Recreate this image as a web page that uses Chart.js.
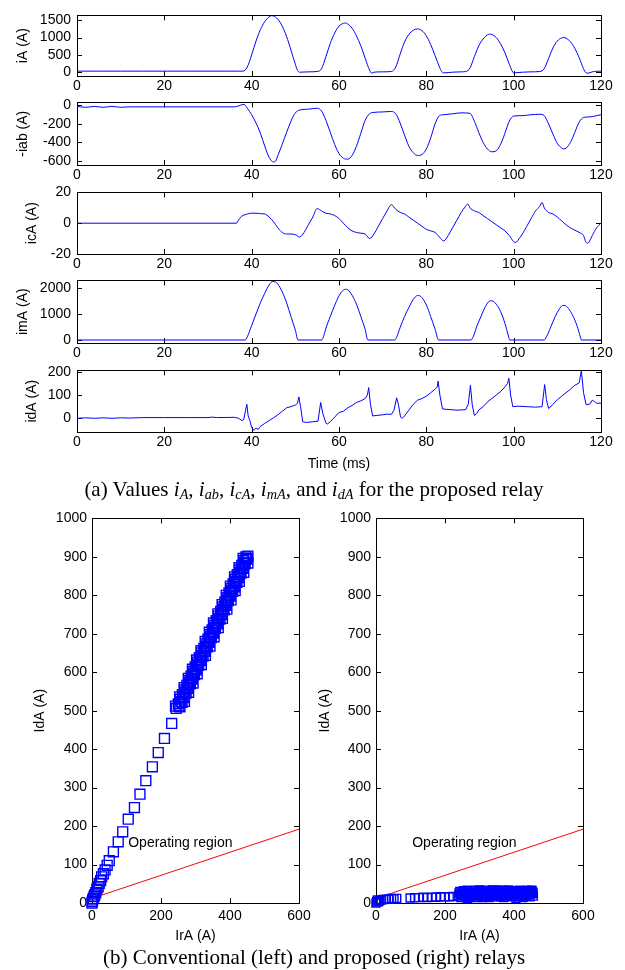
<!DOCTYPE html>
<html>
<head>
<meta charset="utf-8">
<script src="https://cdn.jsdelivr.net/npm/chart.js@4.4.1/dist/chart.umd.min.js"></script>
<style>
  body { margin: 0; background: #fff; }
  #fig { position: relative; width: 625px; height: 970px; overflow: hidden; background: #fff; }
  #fig canvas { position: absolute; }
  .cap {
    position: absolute; left: 0; width: 628px; text-align: center;
    font-family: "Liberation Serif", "Times New Roman", serif; font-size: 21px;
    line-height: 22px; color: #000; white-space: nowrap;
  }
  .cap sub { font-size: 0.68em; line-height: 0; vertical-align: -0.22em; }
</style>
</head>
<body>
<div id="fig">
  <canvas id="pA"></canvas>
  <canvas id="pAB"></canvas>
  <canvas id="pCA"></canvas>
  <canvas id="pMA"></canvas>
  <canvas id="pDA"></canvas>
  <div class="cap" style="top:478px">(a) Values <i>i<sub>A</sub></i>, <i>i<sub>ab</sub></i>, <i>i<sub>cA</sub></i>, <i>i<sub>mA</sub></i>, and <i>i<sub>dA</sub></i> for the proposed relay</div>
  <canvas id="relayLeft"></canvas>
  <canvas id="relayRight"></canvas>
  <div class="cap" style="top:946px">(b) Conventional (left) and proposed (right) relays</div>
</div>
<script>
// --- Data: [time ms, value A] ---

const timeTicks = [0, 20, 40, 60, 80, 100, 120];

const iA = [[0,30],[5,30],[10,30],[15,30],[20,30],[25,30],[30,30],[35,30],[37,30],[38,30],
  [39,150],[40,500],[41,900],[42,1230],[43,1460],[44,1600],[44.5,1630],[45,1620],[46,1530],[47,1330],
  [48,1030],[49,640],[50,230],[50.5,50],[51,0],[53,10],[55,20],[56,100],[57,450],[58,830],
  [59,1130],[60,1330],[61,1410],[61.5,1420],[62,1390],[63,1270],[64,1050],[65,760],[66,400],[67,60],
  [67.5,-30],[68,0],[70,10],[72,20],[73,150],[74,520],[75,870],[76,1090],[77,1210],[78,1250],
  [79,1200],[80,1050],[81,800],[82,480],[83,150],[83.5,20],[84,-20],[86,0],[88,10],[89,20],
  [90,120],[91,450],[92,760],[93,960],[94,1080],[94.5,1100],[95,1090],[96,1000],[97,820],[98,560],
  [99,230],[99.8,0],[100,-20],[102,0],[104,10],[106,20],[107,100],[108,400],[109,700],[110,900],
  [111,990],[111.5,1000],[112,980],[113,880],[114,690],[115,420],[116,100],[116.5,-10],[117,-30],[118,10],
  [119,25],[120,30]];
const iATicks = [0, 500, 1000, 1500];

const iab = [[0,-10],[2,-20],[4,-10],[6,-20],[8,-10],[10,-20],[12,-15],[20,-15],[30,-15],[36,-15],
  [37,-5],[38,10],[38.5,5],[39,-30],[40,-100],[41,-190],[42,-300],[43,-440],[44,-560],[45,-610],
  [45.5,-600],[46,-540],[47,-420],[48,-290],[49,-170],[50,-80],[51,-50],[53,-40],[55,-30],[56,-60],
  [57,-160],[58,-290],[59,-420],[60,-520],[61,-570],[62,-580],[63,-540],[64,-440],[65,-300],[66,-160],
  [67,-90],[68,-75],[70,-70],[72,-65],[73,-90],[74,-190],[75,-320],[76,-440],[77,-510],[78,-540],
  [79,-530],[80,-470],[81,-350],[82,-200],[83,-110],[84,-100],[86,-90],[88,-80],[90,-85],[91,-170],
  [92,-290],[93,-400],[94,-470],[95,-500],[96,-490],[97,-420],[98,-300],[99,-170],[100,-115],[102,-110],
  [104,-100],[106,-95],[107,-110],[108,-200],[109,-310],[110,-410],[111,-460],[111.5,-470],[112,-460],[113,-400],
  [114,-290],[115,-180],[116,-130],[117,-125],[118,-120],[119,-110],[120,-100]];
const iabTicks = [-600, -400, -200, 0];

const icA = [[0,0],[36.5,0],[37,2],[37.5,4],[38,5],[39,6],[40,6.5],[41,6.5],[42,6.2],[43,6],
  [44,4],[45,1],[46,-3],[47,-6],[48,-7],[49,-7],[50,-7.5],[51,-9],[52,-6],[53,-1],
  [54,4],[55,9.5],[56,8],[57,6.5],[58,6],[59,5],[60,3],[61,0],[62,-3],[63,-5],
  [64,-6],[65,-6.5],[66,-7],[67,-10],[68,-7],[69,-2],[70,3],[71,8],[72,12],[73,9],
  [74,7],[75,6],[76,4],[77,2],[78,0],[79,-2],[80,-4],[81,-5],[82,-6],[83,-9],
  [84,-11.5],[85,-8],[86,-3],[87,2],[88,7],[89,11],[89.5,12.5],[90,10],[91,8],[92,7],
  [93,5],[94,3],[95,1],[96,-1],[97,-3],[98,-5],[99,-8],[100,-12],[100.5,-12.5],[101,-11],
  [102,-7],[103,-2],[104,3],[105,8],[106,11],[106.5,13.5],[107,10],[108,7],[109,6],[110,4],
  [111,1.5],[112,-1],[113,-3],[114,-4.5],[115,-6],[116,-8],[116.5,-12],[117,-13],[117.5,-11],[118,-8],
  [119,-3],[120,0]];
const icATicks = [-20, 0, 20];

const imA = [[0,0],[38.5,0],[39,120],[40,560],[41,1000],[42,1430],[43,1800],[44,2120],[44.8,2250],[45.5,2230],
  [46,2150],[47,1850],[48,1430],[49,900],[50,380],[50.6,0],[56,0],[56.5,150],[57,450],[58,900],
  [59,1330],[60,1700],[61,1920],[61.5,1950],[62,1930],[63,1720],[64,1380],[65,900],[66,400],[66.6,0],
  [72.8,0],[73.3,150],[74,480],[75,900],[76,1250],[77,1560],[78,1710],[78.5,1700],[79,1630],[80,1350],
  [81,900],[82,420],[82.8,0],[90.2,0],[90.8,150],[91.5,500],[92.5,900],[93.5,1280],[94.5,1500],[95,1510],
  [96,1380],[97,1100],[98,640],[98.8,150],[99.1,0],[107,0],[107.5,120],[108.5,500],[109.5,900],[110.5,1200],
  [111.2,1330],[111.8,1320],[112.5,1220],[113.5,950],[114.5,550],[115.3,100],[115.5,0],[120,0]];
const imATicks = [0, 1000, 2000];

const idA = [[0,0],[2,2],[4,0],[6,2],[8,0],[10,2],[12,1],[15,3],[20,3],[25,3],
  [30,3],[31,5],[32,3],[36,4],[37,0],[37.8,-10],[38.2,-5],[38.6,35],[38.9,60],[39.2,10],
  [39.6,-10],[40,-40],[40.5,-52],[41,-42],[41.5,-48],[42,-35],[43,-22],[44,-10],[45,2],[46,15],
  [47,30],[48,45],[49,50],[50,57],[50.5,65],[50.8,92],[51.2,50],[51.7,-15],[52.5,-18],[54,-15],
  [55.2,-12],[55.8,68],[56.3,20],[57,-20],[57.3,-25],[58,-15],[59,5],[60,25],[61,30],[62,45],
  [63,55],[64,68],[65,75],[66,85],[66.5,100],[66.8,132],[67.2,60],[67.7,10],[68.5,12],[70,15],
  [71,18],[72,17],[72.6,35],[73.2,88],[73.6,60],[74.1,5],[74.5,0],[75,10],[76,35],[77,60],
  [78,78],[79,85],[80,95],[81,110],[82,125],[82.5,135],[82.7,160],[83.1,100],[83.7,40],[85,38],
  [87,35],[89,37],[89.6,60],[90.1,142],[90.5,60],[91,12],[91.5,20],[92,35],[93,50],[94,70],
  [95,85],[96,100],[97,115],[98,135],[98.6,150],[98.9,172],[99.3,100],[99.8,50],[101,52],[103,50],
  [105,48],[106.5,50],[107.1,145],[107.5,80],[108,42],[109,60],[110,80],[111,95],[112,110],[113,125],
  [114,142],[115,152],[115.5,205],[116,110],[116.6,58],[117.5,62],[118,78],[118.5,72],[119,65],[120,65]];
const idATicks = [0, 100, 200];

// --- Relay characteristic: [IrA, IdA] ---

const irTicks = [0, 200, 400, 600];
const idTicks = [0, 100, 200, 300, 400, 500, 600, 700, 800, 900, 1000];

const conventional = [[0,0],[1,4],[2,8],[4,12],[6,17],[8,21],[11,27],[14,36],[18,42],[21,51],
  [25,58],[28,68],[33,76],[38,86],[44,98],[50,110],[62,133],[76,159],[89,185],[105,218],
  [123,248],[139,283],[156,318],[175,354],[192,391],[210,428],[231,467],
  // dense band of the fault samples
  [244,506],[255,510],[250,518],[261,522],[256,530],[267,534],[262,542],[273,546],[268,554],[279,558],
  [275,566],[285,570],[281,578],[291,582],[287,590],[297,594],[293,602],[303,606],[299,614],[309,618],
  [305,626],[315,630],[311,638],[322,642],[317,650],[328,654],[324,662],[334,666],[330,674],[340,678],
  [336,686],[346,690],[342,698],[352,702],[348,710],[358,714],[354,722],[364,726],[360,734],[371,738],
  [366,746],[377,750],[373,758],[383,762],[379,770],[389,774],[385,782],[395,786],[391,794],[401,798],
  [397,806],[408,810],[403,818],[414,822],[409,830],[420,834],[415,842],[426,846],[421,854],[432,858],
  [428,866],[438,870],[434,878],[444,882],[440,890],[450,894],[446,900],[452,902],
  [252,512],[258,524],[264,536],[270,548],[277,560],[283,572],[289,584],[295,596],[301,608],[307,620],
  [313,632],[319,644],[326,656],[332,668],[338,680],[344,692],[350,704],[356,716],[362,728],[368,740],
  [375,752],[381,764],[387,776],[393,788],[399,800],[405,812],[411,824],[417,836],[423,848],[430,860],
  [436,872],[442,884],[448,896],
  [242,512],[254,536],[267,560],[279,584],[291,608],[303,632],[316,656],[328,680],[340,704],[352,728],
  [365,752],[377,776],[389,800],[401,824],[413,848],[426,872],[438,896],
  [268,524],[280,548],[293,572],[305,596],[317,620],[329,644],[342,668],[354,692],[366,716],[378,740],
  [391,764],[403,788],[415,812],[427,836],[440,860],[452,884]];

const proposed = [[0,0],[2,4],[4,8],[7,3],[10,6],[15,8],[22,9],[30,10],[38,10],[45,12],
  [52,11],[60,12],[99,13],[112,14],[124,14],[137,15],[149,14],[162,15],[174,15],[187,16],
  [199,16],[212,16],[224,17],
  [240,20],[243,30],[246,14],[250,25],[254,32],[258,18],[262,28],[266,12],[270,24],[274,31],
  [278,16],[282,27],[286,20],[290,33],[294,14],[298,25],[302,30],[306,18],[310,28],[314,22],
  [318,33],[322,15],[326,27],[330,31],[334,20],[338,34],[342,16],[346,26],[350,30],[354,18],
  [358,28],[362,23],[366,33],[370,14],[374,25],[378,30],[382,19],[386,28],[390,32],[394,16],
  [398,24],[402,29],[406,12],[410,22],[414,27],[418,18],[422,30],[426,14],[430,25],[434,32],
  [438,20],[442,28],[446,16],[450,30],[454,24],[456,18],
  [241,26],[245,22],[249,16],[252,30],[256,24],[260,14],[264,33],[268,20],[272,16],[276,26],
  [280,22],[284,32],[288,15],[292,24],[296,20],[300,34],[304,24],[308,14],[312,32],[316,17],
  [320,26],[324,22],[328,14],[332,26],[336,28],[340,22],[344,33],[348,20],[352,24],[356,33],
  [360,16],[364,28],[368,20],[372,31],[376,18],[380,24],[384,34],[388,21],[392,26],[396,30],
  [400,18],[404,24],[408,31],[412,16],[416,33],[420,24],[424,20],[428,31],[432,18],[436,26],
  [440,33],[444,22],[448,26],[452,33],[455,28]];

const boundary = [[0,12],[600,192]];
const regionText = 'Operating region';
const regionAt = [105, 155];

// --- Shared look ---

const SANS = '"Liberation Sans", Arial, Helvetica, sans-serif';
Chart.defaults.font.family = SANS;
Chart.defaults.font.size = 14;
Chart.defaults.color = '#000';

// box round the plot with MATLAB style inward ticks
const boxTicks = {
  id: 'boxTicks',
  beforeDatasetsDraw(chart) {
    const { ctx, chartArea: a, scales } = chart;
    const len = 5;
    ctx.save();
    ctx.strokeStyle = '#000';
    ctx.lineWidth = 1;
    ctx.beginPath();
    scales.x.ticks.forEach(t => {
      const px = Math.round(scales.x.getPixelForValue(t.value)) + 0.5;
      ctx.moveTo(px, a.bottom); ctx.lineTo(px, a.bottom - len);
      ctx.moveTo(px, a.top); ctx.lineTo(px, a.top + len);
    });
    scales.y.ticks.forEach(t => {
      const py = Math.round(scales.y.getPixelForValue(t.value)) + 0.5;
      ctx.moveTo(a.left, py); ctx.lineTo(a.left + len, py);
      ctx.moveTo(a.right, py); ctx.lineTo(a.right - len, py);
    });
    ctx.stroke();
    ctx.strokeRect(Math.round(a.left) + 0.5, Math.round(a.top) + 0.5,
      Math.round(a.right - a.left), Math.round(a.bottom - a.top));
    ctx.restore();
  }
};

const regionLabel = {
  id: 'regionLabel',
  afterDatasetsDraw(chart, args, opts) {
    if (!opts || !opts.text) return;
    const { ctx, scales } = chart;
    ctx.save();
    ctx.font = '14px ' + SANS;
    ctx.fillStyle = '#000';
    ctx.textBaseline = 'middle';
    ctx.fillText(opts.text, scales.x.getPixelForValue(opts.at[0]), scales.y.getPixelForValue(opts.at[1]));
    ctx.restore();
  }
};

Chart.register(boxTicks, regionLabel);

function place(id, left, top, width, height) {
  const c = document.getElementById(id);
  c.width = width; c.height = height;
  c.style.left = left + 'px'; c.style.top = top + 'px';
  return c;
}

const fixedTicks = list => s => { s.ticks = list.map(v => ({ value: v })); };
const plain = v => String(v);

// --- Part (a): five time panels ---

const panels = [
  { id: 'pA',  data: iA,  ticks: iATicks,  min: -110, max: 1640, title: 'iA (A)',   tpad: 15, top: 10,  bottom: 76 },
  { id: 'pAB', data: iab, ticks: iabTicks, min: -643, max: 33,   title: '-iab (A)', tpad: 15, top: 97,  bottom: 165 },
  { id: 'pCA', data: icA, ticks: icATicks, min: -20,  max: 20,   title: 'icA (A)',  tpad: 24, top: 187, bottom: 254 },
  { id: 'pMA', data: imA, ticks: imATicks, min: -116, max: 2293, title: 'imA (A)',  tpad: 15, top: 275, bottom: 343 },
  { id: 'pDA', data: idA, ticks: idATicks, min: -59,  max: 206,  title: 'idA (A)',  tpad: 24, top: 365, bottom: 432, xTitle: 'Time (ms)', spiky: true },
];

panels.forEach(p => {
  const padTop = 9;
  const xH = p.xTitle ? 46 : 20;
  const canvas = place(p.id, 0, p.top - padTop, 625, padTop + (p.bottom - p.top) + xH);
  new Chart(canvas, {
    type: 'line',
    data: {
      datasets: [{
        data: p.data.map(d => ({ x: d[0], y: d[1] })),
        borderColor: '#0000ff',
        borderWidth: 1,
        pointRadius: 0,
        cubicInterpolationMode: p.spiky ? 'default' : 'monotone',
        tension: 0,
      }],
    },
    options: {
      responsive: false,
      animation: false,
      layout: { padding: { top: padTop, right: 24, left: 0, bottom: 0 } },
      plugins: { legend: { display: false }, tooltip: { enabled: false } },
      scales: {
        x: {
          type: 'linear', min: 0, max: 120,
          afterBuildTicks: fixedTicks(timeTicks),
          afterFit: s => { s.height = xH; },
          ticks: { padding: 2, maxRotation: 0, autoSkip: false, callback: plain },
          grid: { display: false, drawTicks: false },
          border: { display: false },
          title: { display: !!p.xTitle, text: p.xTitle || '', padding: { top: 0, bottom: 5 } },
        },
        y: {
          min: p.min, max: p.max,
          afterBuildTicks: fixedTicks(p.ticks),
          afterFit: s => { s.width = 77; },
          ticks: { padding: 6, autoSkip: false, callback: plain },
          grid: { display: false, drawTicks: false },
          border: { display: false },
          title: { display: true, text: p.title, padding: { top: p.tpad, bottom: 0 } },
        },
      },
    },
  });
});

// --- Part (b): relay characteristics ---

function relayChart(id, left, width, padRight, yW, titlePad, points, radius) {
  const padTop = 13, xH = 45;
  const canvas = place(id, left, 518 - padTop, width, padTop + 385 + xH);
  new Chart(canvas, {
    type: 'scatter',
    data: {
      datasets: [
        {
          data: points.map(d => ({ x: d[0], y: d[1] })),
          pointStyle: 'rect',
          pointRadius: radius,
          borderColor: '#0000ff',
          backgroundColor: 'rgba(0,0,0,0)',
          borderWidth: 1.4,
          clip: false,
        },
        {
          type: 'line',
          data: boundary.map(d => ({ x: d[0], y: d[1] })),
          borderColor: '#ff0000',
          borderWidth: 1,
          pointRadius: 0,
          showLine: true,
        },
      ],
    },
    options: {
      responsive: false,
      animation: false,
      layout: { padding: { top: padTop, right: padRight, left: 0, bottom: 0 } },
      plugins: {
        legend: { display: false },
        tooltip: { enabled: false },
        regionLabel: { text: regionText, at: regionAt },
      },
      scales: {
        x: {
          type: 'linear', min: 0, max: 600,
          afterBuildTicks: fixedTicks(irTicks),
          afterFit: s => { s.height = xH; },
          ticks: { padding: 5, maxRotation: 0, autoSkip: false, callback: plain },
          grid: { display: false, drawTicks: false },
          border: { display: false },
          title: { display: true, text: 'IrA (A)', padding: { top: 0, bottom: 3 } },
        },
        y: {
          type: 'linear', min: 0, max: 1000,
          afterBuildTicks: fixedTicks(idTicks),
          afterFit: s => { s.width = yW; },
          ticks: { padding: 5, autoSkip: false, callback: plain },
          grid: { display: false, drawTicks: false },
          border: { display: false },
          title: { display: true, text: 'IdA (A)', padding: { top: titlePad, bottom: 0 } },
        },
      },
    },
  });
}

relayChart('relayLeft', 0, 330, 31, 92, 32, conventional, 7);
relayChart('relayRight', 300, 325, 42, 76, 17, proposed, 5.7);
</script>
</body>
</html>
